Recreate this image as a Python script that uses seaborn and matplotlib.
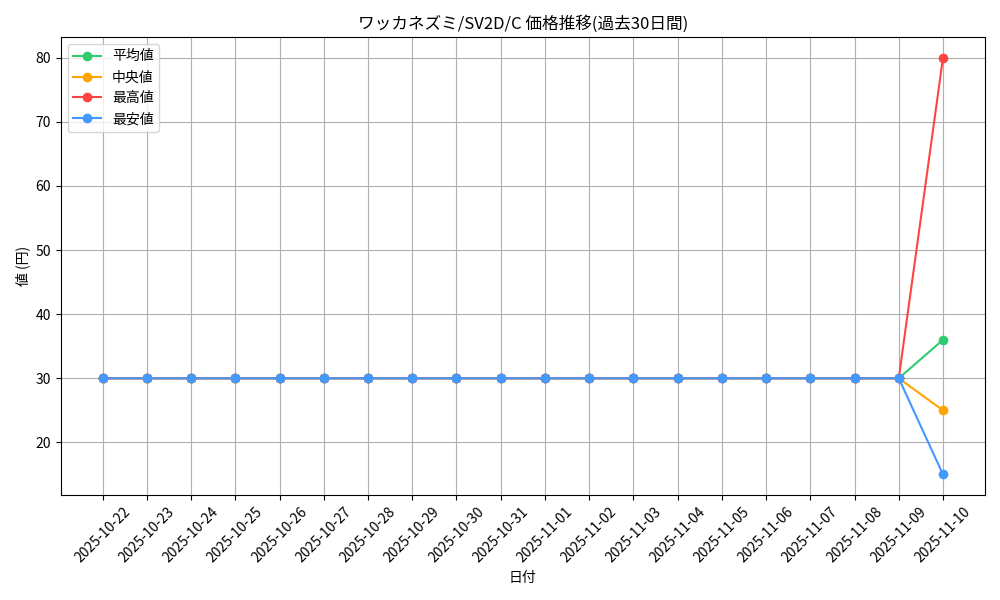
import matplotlib
matplotlib.use("Agg")
import matplotlib.pyplot as plt
import seaborn as sns
import pandas as pd

dates = ["2025-10-22", "2025-10-23", "2025-10-24", "2025-10-25", "2025-10-26",
         "2025-10-27", "2025-10-28", "2025-10-29", "2025-10-30", "2025-10-31",
         "2025-11-01", "2025-11-02", "2025-11-03", "2025-11-04", "2025-11-05",
         "2025-11-06", "2025-11-07", "2025-11-08", "2025-11-09", "2025-11-10"]
mean_vals = [30]*19 + [36]
median_vals = [30]*19 + [25]
max_vals = [30]*19 + [80]
min_vals = [30]*19 + [15]

series_names = ["平均値", "中央値", "最高値", "最安値"]
series_vals = [mean_vals, median_vals, max_vals, min_vals]
colors = ["#2ECC71", "#FFA500", "#FF4444", "#4499FF"]

plt.rcParams['font.family'] = ['Noto Sans CJK JP', 'DejaVu Sans']

fig, ax = plt.subplots(figsize=(10, 6), dpi=100)
x = list(range(len(dates)))
for name, vals, c in zip(series_names, series_vals, colors):
    df = pd.DataFrame({"x": x, "y": vals})
    sns.lineplot(data=df, x="x", y="y", ax=ax, color=c, marker="o",
                 markersize=7, markeredgewidth=0, label=name, linewidth=1.5)

ax.set_xticks(x)
ax.set_xticklabels(dates, rotation=45)
ax.set_title("ワッカネズミ/SV2D/C 価格推移(過去30日間)")
ax.set_xlabel("日付")
ax.set_ylabel("値 (円)")
ax.grid(True, color="#b0b0b0")
ax.legend(loc="upper left")
fig.tight_layout()
fig.savefig("out.png", dpi=100)
